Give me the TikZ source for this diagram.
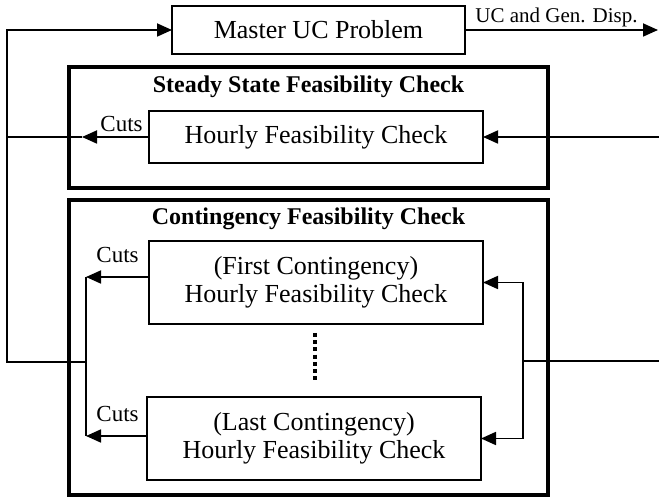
\documentclass[tikz,border=0pt]{standalone}
\usepackage{fontspec}
\setmainfont{Liberation Serif}
\usetikzlibrary{arrows.meta}
\tikzset{
  blk/.style={draw,line width=1pt,inner sep=0pt,outer sep=0pt,align=center,font=\fontsize{13}{14}\selectfont},
  frm/.style={draw,line width=2pt,inner sep=0pt,outer sep=0pt},
  ttl/.style={inner sep=0pt,font=\bfseries\fontsize{12}{14}\selectfont},
  lbl/.style={inner sep=0pt,font=\fontsize{11.5}{13}\selectfont},
  wire/.style={line width=0.9pt},
  arr/.style={wire,-{Triangle[length=7.5pt,width=6.5pt]}}
}
\begin{document}
\begin{tikzpicture}[x=0.5pt,y=-0.5pt]
\useasboundingbox (0,0) rectangle (659,497);
% boxes
\draw (318.5,30) node[blk,minimum width=146.5pt,minimum height=24pt] (master) {Master UC Problem};
\draw (308.5,127.5) node[frm,minimum width=239.5pt,minimum height=60.5pt] (sframe) {};
\draw ([yshift=-13pt]sframe.north) node[ttl,anchor=base] (stitle) {Steady State Feasibility Check};
\draw (316,137) node[blk,minimum width=167pt,minimum height=26pt] (hourly) {Hourly Feasibility Check};
\draw (308.5,347.5) node[frm,minimum width=239.5pt,minimum height=147.5pt] (cframe) {};
\draw ([yshift=-12.5pt]cframe.north) node[ttl,anchor=base] (ctitle) {Contingency Feasibility Check};
\draw (316,282.5) node[blk,minimum width=167pt,minimum height=41.5pt] (first) {(First Contingency)\\Hourly Feasibility Check};
\draw (314,438.5) node[blk,minimum width=167pt,minimum height=41.5pt] (last) {(Last Contingency)\\Hourly Feasibility Check};
% points
\coordinate (loopTop) at (7,30);
\coordinate (loopBot) at (7,362);
\coordinate (sjoin) at (7,137);
\coordinate (stip) at (82,137);
\coordinate (cjoin) at (86,362);
\coordinate (cb1) at (86,277);
\coordinate (cb2) at (86,436);
\coordinate (uout) at (658,30);
\coordinate (sin) at (659,137);
\coordinate (rin) at (659,361);
\coordinate (rbus) at (523,361);
\coordinate (dtop) at (315,333);
\coordinate (dbot) at (315,383);
% master loop
\draw[arr] (cjoin) -- (loopBot) -- (loopTop) -- (master.west);
\draw[arr] (master.east) -- (uout);
\draw ([xshift=5pt,yshift=3.5pt]master.east) node[lbl,anchor=base west,font=\fontsize{10.5}{12}\selectfont] (ulbl) {UC and Gen. Disp.};
% steady state
\draw[arr] (sin) -- (hourly.east);
\draw[arr] (hourly.west) -- (stip);
\draw[wire] (stip) -- (sjoin);
\draw ([xshift=-3pt,yshift=2.5pt]hourly.west) node[lbl,anchor=base east] (scuts) {Cuts};
% contingency
\draw[wire] (rin) -- (rbus);
\draw[arr] (rbus) |- (first.east);
\draw[arr] (rbus) |- (last.east);
\draw[arr] (first.west |- cb1) -- (cb1);
\draw[arr] (last.west |- cb2) -- (cb2);
\draw[wire] (cb1) -- (cb2);
\draw ([xshift=-5pt,yshift=7pt]first.west |- cb1) node[lbl,anchor=base east] (ccuts1) {Cuts};
\draw ([xshift=-4pt,yshift=7pt]last.west |- cb2) node[lbl,anchor=base east] (ccuts2) {Cuts};
\draw[line width=2pt,dash pattern=on 2pt off 1.6pt] (dtop) -- (dbot);
\end{tikzpicture}
\end{document}
